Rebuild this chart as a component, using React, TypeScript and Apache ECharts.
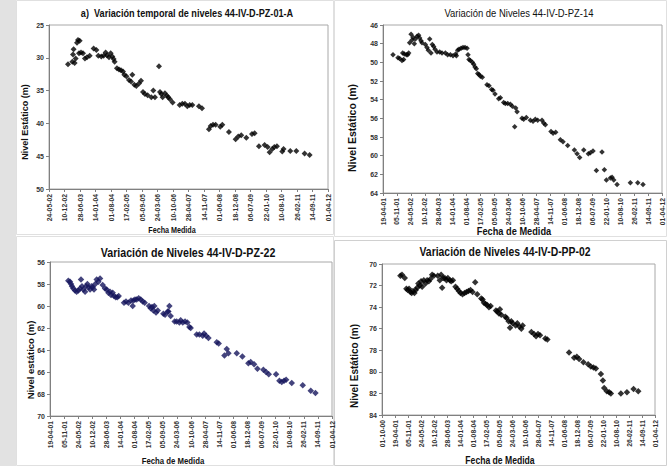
import React, { useEffect, useRef } from "react";
import * as echarts from "echarts";

// Measurement dates as Excel date serials (days since 30-12-1899) and static levels (m)
const pz01aDates = [37645, 37701, 37710, 37718, 37731, 37744, 37761, 37774, 37796, 37787, 37813, 37839, 37864, 37890, 37925, 37976, 38011, 38036, 38075, 38105, 38131, 38148, 38174, 38196, 38217, 38234, 38247, 38277, 38303, 38329, 38355, 38372, 38398, 38432, 38458, 38475, 38501, 38527, 38561, 38587, 38613, 38638, 38673, 38720, 38746, 38767, 38819, 38832, 38849, 38866, 38896, 38922, 38939, 38961, 38995, 39086, 39120, 39154, 39185, 39215, 39249, 39335, 39374, 39464, 39486, 39516, 39550, 39610, 39636, 39722, 39808, 39842, 39881, 39946, 40019, 40053, 40109, 40182, 40221, 40247, 40281, 40307, 40341, 40410, 40427, 40513, 40591, 40698, 40763];
const pz01aLevels = [31.0, 30.6, 29.5, 28.7, 30.8, 30.1, 27.7, 27.3, 27.4, 29.3, 29.2, 29.3, 30.1, 29.9, 29.7, 28.6, 28.8, 29.7, 29.8, 29.7, 29.2, 29.6, 29.9, 29.3, 29.8, 30.2, 30.6, 31.6, 31.8, 31.9, 32.1, 32.6, 32.8, 33.4, 33.6, 32.6, 34.1, 34.3, 33.9, 33.5, 35.2, 35.5, 35.7, 36.0, 35.0, 36.0, 31.3, 35.2, 35.5, 36.0, 35.4, 35.8, 36.0, 36.3, 36.8, 37.2, 37.0, 37.0, 37.4, 37.2, 37.2, 37.4, 37.7, 40.9, 40.4, 40.2, 40.2, 40.5, 40.2, 41.3, 42.4, 42.0, 41.8, 42.2, 41.6, 41.5, 43.5, 43.3, 43.6, 44.4, 43.9, 43.6, 43.5, 44.3, 43.9, 44.2, 44.2, 44.6, 44.8];

const pz14Dates = [37143, 37215, 37239, 37272, 37296, 37282, 37306, 37335, 37354, 37368, 37382, 37402, 37416, 37430, 37449, 37464, 37488, 37511, 37526, 37545, 37559, 37607, 37631, 37650, 37669, 37688, 37707, 37727, 37746, 37774, 37813, 37846, 37894, 37927, 37966, 38004, 38042, 38052, 38071, 38090, 38119, 38147, 38176, 38205, 38219, 38233, 38252, 38281, 38300, 38319, 38338, 38358, 38377, 38396, 38424, 38491, 38520, 38558, 38577, 38606, 38659, 38683, 38730, 38754, 38788, 38826, 38855, 38888, 38902, 38922, 38993, 39017, 39055, 39113, 39151, 39184, 39218, 39280, 39304, 39328, 39409, 39438, 39476, 39543, 39581, 39648, 39744, 39782, 39820, 39878, 39944, 39973, 40011, 40059, 40140, 40174, 40203, 40260, 40284, 40308, 40356, 40547, 40652, 40728];
const pz14Levels = [49.2, 49.5, 49.6, 49.8, 49.7, 49.0, 49.1, 49.2, 49.2, 49.0, 47.9, 47.0, 47.6, 47.3, 48.0, 47.5, 47.2, 47.1, 47.4, 47.7, 47.9, 48.1, 48.4, 48.7, 47.5, 49.0, 48.1, 48.3, 48.6, 48.9, 48.9, 49.0, 49.0, 49.2, 49.2, 49.3, 49.1, 49.3, 48.7, 48.6, 48.5, 48.4, 48.4, 48.5, 49.2, 49.7, 49.8, 50.0, 50.2, 50.5, 50.7, 51.2, 51.3, 51.5, 51.6, 52.4, 52.5, 52.9, 53.0, 53.4, 53.9, 53.8, 54.3, 54.4, 54.4, 54.5, 54.7, 56.9, 54.9, 55.3, 56.0, 56.1, 55.9, 56.2, 56.3, 56.1, 56.2, 56.2, 56.5, 56.7, 57.4, 57.6, 57.5, 58.3, 58.5, 58.9, 59.4, 59.8, 60.2, 59.4, 59.8, 59.7, 59.5, 61.6, 59.6, 61.5, 62.6, 62.4, 62.3, 62.6, 63.1, 62.9, 62.9, 63.1];

const pz22Dates = [37260, 37284, 37298, 37312, 37331, 37355, 37378, 37402, 37426, 37440, 37454, 37473, 37497, 37511, 37530, 37549, 37568, 37591, 37605, 37624, 37643, 37662, 37686, 37710, 37747, 37780, 37804, 37828, 37851, 37866, 37889, 37908, 37932, 37955, 37974, 38050, 38078, 38112, 38149, 38173, 38183, 38206, 38230, 38258, 38287, 38315, 38343, 38405, 38428, 38447, 38466, 38480, 38504, 38528, 38608, 38632, 38670, 38693, 38679, 38712, 38769, 38797, 38835, 38854, 38883, 38916, 38949, 38977, 38996, 39081, 39119, 39166, 39185, 39214, 39247, 39365, 39393, 39474, 39507, 39531, 39649, 39729, 39814, 39847, 39895, 39942, 40027, 40065, 40103, 40207, 40254, 40287, 40320, 40349, 40429, 40585, 40699, 40765];
const pz22Levels = [57.7, 57.8, 58.0, 58.2, 58.4, 58.6, 58.7, 58.6, 58.4, 57.6, 58.2, 58.5, 58.7, 58.2, 58.0, 58.3, 58.5, 58.2, 58.3, 58.5, 58.0, 57.6, 57.8, 57.5, 58.1, 58.4, 58.5, 58.8, 58.7, 59.0, 58.8, 59.1, 59.2, 59.2, 59.1, 59.7, 59.6, 59.7, 59.5, 60.0, 59.5, 59.4, 59.4, 59.3, 59.4, 59.6, 59.7, 60.0, 60.2, 60.1, 60.4, 60.0, 60.6, 60.4, 60.7, 60.8, 60.5, 60.0, 60.5, 60.9, 61.4, 61.4, 61.5, 61.3, 61.5, 61.4, 61.5, 61.9, 62.0, 62.6, 62.6, 62.7, 62.5, 62.7, 62.9, 63.3, 63.4, 64.5, 63.9, 64.3, 64.3, 64.6, 65.2, 65.1, 65.3, 65.7, 65.8, 66.0, 66.2, 66.2, 66.8, 66.9, 66.8, 66.7, 67.0, 67.2, 67.7, 67.9];

const pp02Dates = [37083, 37108, 37150, 37175, 37196, 37216, 37237, 37257, 37278, 37299, 37319, 37340, 37360, 37381, 37401, 37417, 37443, 37468, 37494, 37520, 37545, 37571, 37597, 37658, 37689, 37710, 37725, 37741, 37766, 37792, 37813, 37843, 37864, 37890, 37931, 37957, 37982, 38008, 38039, 38070, 38100, 38131, 38162, 38193, 38234, 38265, 38327, 38347, 38368, 38393, 38419, 38445, 38471, 38553, 38573, 38599, 38614, 38635, 38697, 38717, 38748, 38769, 38789, 38810, 38856, 38882, 38913, 38943, 38964, 39098, 39139, 39170, 39200, 39231, 39313, 39344, 39678, 39756, 39797, 39833, 39899, 39971, 40013, 40054, 40090, 40167, 40198, 40218, 40259, 40295, 40321, 40475, 40568, 40670, 40742];
const pp02Levels = [71.1, 71.0, 71.3, 72.3, 72.4, 72.3, 72.6, 72.7, 72.5, 72.7, 72.4, 72.2, 71.8, 72.0, 71.6, 72.1, 71.5, 71.8, 71.5, 71.6, 71.4, 71.0, 71.1, 71.1, 71.5, 71.0, 72.2, 71.3, 71.3, 71.5, 71.3, 71.5, 71.6, 71.5, 72.1, 72.3, 72.5, 72.7, 72.8, 72.7, 72.6, 72.5, 72.4, 72.6, 71.7, 72.8, 73.2, 73.3, 73.6, 73.7, 73.8, 74.0, 73.9, 74.3, 74.4, 74.6, 74.2, 74.7, 74.9, 75.0, 75.3, 75.9, 75.3, 75.5, 75.7, 75.5, 75.8, 76.0, 75.7, 76.3, 76.5, 76.7, 76.5, 76.6, 76.9, 77.0, 78.2, 78.7, 78.6, 78.8, 79.1, 79.3, 79.5, 79.6, 79.7, 80.2, 80.8, 81.5, 81.8, 81.9, 82.0, 82.0, 81.9, 81.6, 81.8];

const titles = [
  "a)  Variación temporal de niveles 44-IV-D-PZ-01-A",
  "Variación de Niveles 44-IV-D-PZ-14",
  "Variación de Niveles 44-IV-D-PZ-22",
  "Variación de Niveles 44-IV-D-PP-02",
];
const xNames = ["Fecha Medida", "Fecha de Medida", "Fecha de Medida", "Fecha de Medida"];
const yNames = ["Nivel Estático (m)", "Nivel Estático (m)", "Nivel estático (m)", "Nivel Estático (m)"];
// axis ranges (x in date serials, step 200 days; y inverted levels)
const xMins = [37400, 37000, 37000, 36800];
const xMax = 41000;
const yMins = [25, 46, 56, 70];
const yMaxs = [50, 64, 70, 84];
const ySteps = [5, 2, 2, 2];

const EPOCH = Date.UTC(1899, 11, 30);
const pad = (n: number) => (n < 10 ? "0" + n : "" + n);
const fmtDate = (v: number) => {
  const d = new Date(EPOCH + Math.round(v) * 86400000);
  return pad(d.getUTCDate()) + "-" + pad(d.getUTCMonth() + 1) + "-" + pad(d.getUTCFullYear() % 100);
};

const FONT = '"Liberation Sans", Arial, sans-serif';

export default function App() {
  const ref = useRef<HTMLDivElement>(null);
  useEffect(() => {
    if (!ref.current) return;
    const chart = echarts.init(ref.current, undefined, { renderer: "svg" });
    const grids = [
      { left: 49, top: 25, width: 279, height: 164 },
      { left: 383, top: 25, width: 279, height: 168 },
      { left: 50, top: 262, width: 282, height: 154 },
      { left: 382, top: 264, width: 273, height: 151 },
    ];
    const seriesData = [
      [pz01aDates, pz01aLevels],
      [pz14Dates, pz14Levels],
      [pz22Dates, pz22Levels],
      [pp02Dates, pp02Levels],
    ];
    const colors = ["#000000", "#000000", "#15155c", "#000000"];
    const sizes = [6, 5.5, 6.5, 6.5];
    const titleSpec = [
      { x: 187, y: 13, size: 11, weight: "bold", sx: 0.83 },
      { x: 519, y: 13, size: 11, weight: "normal", sx: 0.86 },
      { x: 188, y: 253, size: 13, weight: "bold", sx: 0.82 },
      { x: 505, y: 251, size: 13, weight: "bold", sx: 0.8 },
    ];
    const xNameSpec = [
      { x: 172, y: 230, size: 9, sx: 0.8 },
      { x: 514, y: 231, size: 11, sx: 0.84 },
      { x: 173, y: 461, size: 9.5, sx: 0.82 },
      { x: 500, y: 460, size: 10.5, sx: 0.82 },
    ];
    const yNameSpec = [
      { x: 25, y: 122, size: 9 },
      { x: 352, y: 128, size: 10.5 },
      { x: 30, y: 360, size: 9.5 },
      { x: 354, y: 366, size: 10 },
    ];
    const txt = (s: any, text: string, rot: number, weight: string) => ({
      type: "text",
      x: s.x,
      y: s.y,
      rotation: rot,
      scaleX: s.sx || 1,
      z: 10,
      style: {
        text,
        fill: "#111",
        fontSize: s.size,
        fontWeight: weight,
        fontFamily: FONT,
        align: "center",
        verticalAlign: "middle",
        textAlign: "center",
        textVerticalAlign: "middle",
      },
    });
    const graphic: any[] = [
      { type: "rect", z: -10, shape: { x: 0, y: 0, width: 16, height: 466 }, style: { fill: "#e2e2e2" } },
      { type: "rect", z: -9, shape: { x: 16.5, y: 0.5, width: 317, height: 234 }, style: { fill: "#fff", stroke: "#e0e0e0", lineWidth: 1 } },
      { type: "rect", z: -9, shape: { x: 334.5, y: 0.5, width: 332, height: 236 }, style: { fill: "#fff", stroke: "#e0e0e0", lineWidth: 1 } },
      { type: "rect", z: -9, shape: { x: 16.5, y: 236.5, width: 317, height: 229 }, style: { fill: "#fff", stroke: "#e0e0e0", lineWidth: 1 } },
      { type: "rect", z: -9, shape: { x: 334.5, y: 240.5, width: 332, height: 225 }, style: { fill: "#fff", stroke: "#d0d0d0", lineWidth: 1 } },
    ];
    for (let i = 0; i < 4; i++) {
      graphic.push(txt(titleSpec[i], titles[i], 0, titleSpec[i].weight));
      graphic.push(txt(xNameSpec[i], xNames[i], 0, "bold"));
      graphic.push(txt(yNameSpec[i], yNames[i], Math.PI / 2, "bold"));
    }
    const option: any = {
      animation: false,
      backgroundColor: "#ffffff",
      textStyle: { fontFamily: FONT },
      graphic,
      grid: grids.map((g) => ({ ...g, show: true, borderColor: "#a8a8a8", borderWidth: 1, backgroundColor: "transparent" })),
      xAxis: grids.map((_, i) => ({
        type: "value",
        gridIndex: i,
        min: xMins[i],
        max: xMax,
        interval: 200,
        splitLine: { show: false },
        axisLine: { show: true, onZero: false, lineStyle: { color: "#808080", width: 1 } },
        axisTick: { show: true, inside: false, length: 3, lineStyle: { color: "#808080" } },
        axisLabel: {
          rotate: 90,
          fontSize: 6.8,
          fontWeight: "bold",
          color: "#333",
          margin: 5,
          showMinLabel: true,
          showMaxLabel: true,
          formatter: (v: number) => fmtDate(v),
        },
      })),
      yAxis: grids.map((_, i) => ({
        type: "value",
        gridIndex: i,
        inverse: true,
        min: yMins[i],
        max: yMaxs[i],
        interval: ySteps[i],
        splitLine: { show: false },
        axisLine: { show: true, onZero: false, lineStyle: { color: "#808080", width: 1 } },
        axisTick: { show: true, inside: false, length: 3, lineStyle: { color: "#808080" } },
        axisLabel: { fontSize: 7, fontWeight: "bold", color: "#333", margin: 5 },
      })),
      series: seriesData.map(([xs, ys], i) => ({
        type: "scatter",
        xAxisIndex: i,
        yAxisIndex: i,
        symbol: "diamond",
        symbolSize: sizes[i],
        itemStyle: { color: colors[i] },
        data: xs.map((x, k) => [x, ys[k]]),
      })),
    };
    chart.setOption(option);
    return () => chart.dispose();
  }, []);
  return <div ref={ref} style={{ position: "absolute", left: 0, top: 0, width: 668, height: 466 }} />;
}
